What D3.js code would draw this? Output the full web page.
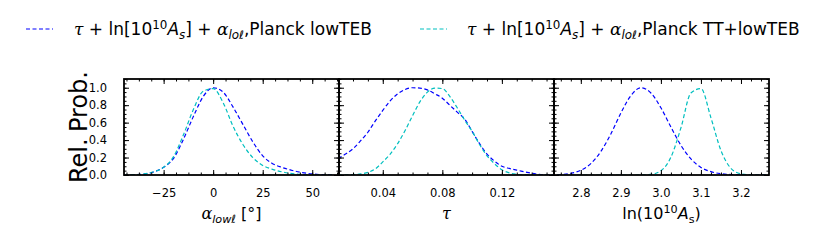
<!DOCTYPE html>
<html><head><meta charset="utf-8">
<script src="https://cdn.jsdelivr.net/npm/d3@7"></script>
<style>
body{margin:0;background:#fff;}
text{font-family:"DejaVu Sans",sans-serif;}
</style></head>
<body><svg id="c" width="830" height="243"></svg>
<script>
// ---- data ----
const alphaX = [-45,-40,-35,-30,-25,-20,-15,-10,-5,0,5,10,15,20,25,30,35,40,45,50,55,60];
const alphaLowTEB   = [0.001,0.003,0.01,0.035,0.088,0.19,0.41,0.67,0.9,1.0,0.95,0.78,0.58,0.38,0.22,0.13,0.085,0.052,0.028,0.012,0.004,0.001];
const alphaTTlowTEB = [0.001,0.004,0.012,0.037,0.088,0.21,0.46,0.75,0.96,0.99,0.83,0.56,0.35,0.2,0.11,0.065,0.035,0.015,0.005,0.001,0,0];

const tauX = [0.010,0.015,0.020,0.025,0.030,0.035,0.040,0.045,0.050,0.055,0.060,0.065,0.070,0.075,0.080,0.085,0.090,0.095,0.100,0.105,0.110,0.115,0.120,0.125,0.130,0.135,0.140,0.145,0.150,0.155];
const tauLowTEB   = [0.19,0.24,0.30,0.39,0.49,0.62,0.74,0.85,0.93,0.98,1.00,0.995,0.975,0.93,0.88,0.80,0.72,0.64,0.50,0.36,0.24,0.16,0.10,0.075,0.055,0.038,0.02,0.008,0.003,0.001];
const tauTTlowTEB = [0.001,0.002,0.005,0.012,0.03,0.07,0.15,0.24,0.36,0.51,0.68,0.84,0.95,0.995,0.99,0.90,0.77,0.63,0.50,0.35,0.22,0.13,0.06,0.025,0.008,0.002,0,0,0,0];

const lnAsX = [2.725,2.75,2.775,2.80,2.825,2.85,2.875,2.90,2.925,2.95,2.975,3.00,3.025,3.05,3.075,3.10,3.125,3.15,3.175,3.20,3.225,3.25,3.275];
const lnAsLowTEB   = [0.001,0.006,0.019,0.054,0.13,0.27,0.47,0.71,0.91,1.0,0.94,0.77,0.55,0.34,0.185,0.087,0.038,0.015,0.005,0.001,0,0,0];
const lnAsTTlowTEB = [0,0,0,0,0,0,0,0,0,0.001,0.007,0.048,0.204,0.54,0.94,0.99,0.655,0.28,0.076,0.013,0.0015,0,0];

const alphaTicks = [-25,0,25,50];
const tauTicks = [0.04,0.08,0.12];
const lnAsTicks = [2.8,2.9,3.0,3.1,3.2];
const yTicks = [0,0.2,0.4,0.6,0.8,1.0];
const seriesNames = ["Planck lowTEB","Planck TT+lowTEB"];
const seriesColors = ["#0000ff","#00bfbf"];

// ---- layout ----
const svg = d3.select("#c");
const pTop = 79, pBottom = 175, pw = 215;
const panels = [
  {x0:124, dom:[-45,63.5], xs:alphaX, ys:[alphaLowTEB,alphaTTlowTEB], major:alphaTicks, minorStep:6.25, fmt:d=>d<0?"\u2212"+Math.abs(d):String(d)},
  {x0:339, dom:[0.0106,0.155], xs:tauX, ys:[tauLowTEB,tauTTlowTEB], major:tauTicks, minorStep:0.01, fmt:d3.format(".2f")},
  {x0:554, dom:[2.733,3.27], xs:lnAsX, ys:[lnAsLowTEB,lnAsTTlowTEB], major:lnAsTicks, minorStep:0.025, fmt:d3.format(".1f")}
];
const y = d3.scaleLinear().domain([0,1.1]).range([pBottom,pTop]);
const yMinor = d3.range(0,1.1001,0.05);

panels.forEach((p,i)=>{
  const x = d3.scaleLinear().domain(p.dom).range([p.x0,p.x0+pw]);
  const first = Math.ceil(p.dom[0]/p.minorStep - 1e-6);
  const minors = [];
  for(let k=first; k*p.minorStep<=p.dom[1]+1e-9; k++) minors.push(+(k*p.minorStep).toFixed(6));
  const g = svg.append("g");
  const cid = "clip"+i;
  svg.append("clipPath").attr("id",cid).append("rect").attr("x",p.x0).attr("y",pTop).attr("width",pw).attr("height",pBottom-pTop);
  const line = d3.line().x((d,j)=>x(p.xs[j])).y(d=>y(d)).curve(d3.curveMonotoneX);
  p.ys.forEach((ys,s)=>{
    g.append("path").datum(ys).attr("d",line).attr("clip-path",`url(#${cid})`)
      .attr("fill","none").attr("stroke",seriesColors[s]).attr("stroke-width",1.2)
      .attr("stroke-dasharray","4,2.5");
  });
  const mk = (axis,tr)=>{ const a=g.append("g").attr("transform",tr).call(axis); a.select(".domain").remove(); a.selectAll("line").attr("stroke","#000").attr("stroke-width",1); return a;};
  mk(d3.axisBottom(x).tickValues(minors).tickSize(-2.5).tickFormat(""),`translate(0,${pBottom})`);
  mk(d3.axisTop(x).tickValues(minors).tickSize(-2.5).tickFormat(""),`translate(0,${pTop})`);
  const xb = mk(d3.axisBottom(x).tickValues(p.major).tickSize(-5).tickPadding(14).tickFormat(p.fmt),`translate(0,${pBottom})`);
  xb.selectAll("text").attr("font-size",11.5).attr("font-family","DejaVu Sans, sans-serif").attr("fill","#000");
  mk(d3.axisTop(x).tickValues(p.major).tickSize(-5).tickFormat(""),`translate(0,${pTop})`);
  mk(d3.axisLeft(y).tickValues(yMinor).tickSize(-2.5).tickFormat(""),`translate(${p.x0},0)`);
  mk(d3.axisRight(y).tickValues(yMinor).tickSize(-2.5).tickFormat(""),`translate(${p.x0+pw},0)`);
  const yl = mk(d3.axisLeft(y).tickValues(yTicks).tickSize(-5).tickPadding(i===0?17:0).tickFormat(i===0?d3.format(".1f"):""),`translate(${p.x0},0)`);
  yl.selectAll("text").attr("font-size",11.5).attr("font-family","DejaVu Sans, sans-serif").attr("fill","#000");
  mk(d3.axisRight(y).tickValues(yTicks).tickSize(-5).tickFormat(""),`translate(${p.x0+pw},0)`);
  g.append("rect").attr("x",p.x0).attr("y",pTop).attr("width",pw).attr("height",pBottom-pTop)
    .attr("fill","none").attr("stroke","#000").attr("stroke-width",1.8);
});

function rich(sel, x, yb, size, segs){
  const t = sel.append("text").attr("x",x).attr("y",yb).attr("font-size",size).attr("fill","#000");
  let shift = 0;
  segs.forEach(([s,st])=>{
    const ts = t.append("tspan").text(s);
    let target = 0, fs = size;
    if(st.includes("sup")){ target = -0.38*size; fs = size*0.7; }
    if(st.includes("sub")){ target = 0.22*size; fs = size*0.7; }
    ts.attr("dy", target-shift); shift = target;
    ts.attr("font-size",fs);
    if(st.includes("i")) ts.attr("font-style","italic");
    if(st.includes("g")) ts.attr("font-family","DejaVu Serif, serif");
  });
  return t;
}

const lblY = 219;
rich(svg, 231.5, lblY, 16, [["α","g i"],["lowℓ","sub i"],[" [°]","n"]]).attr("text-anchor","middle");
rich(svg, 446.5, lblY, 16, [["τ","g i"]]).attr("text-anchor","middle");
rich(svg, 661.5, lblY, 16, [["ln(10","n"],["10","sup"],["A","i"],["s","sub"],[")","n"]]).attr("text-anchor","middle");

const yLab = svg.append("text").attr("transform","translate(87,0) rotate(-90)").attr("font-size",24).attr("fill","#000");
yLab.append("tspan").attr("x",-183).attr("y",0).text("Rel.");
yLab.append("tspan").attr("x",-132).attr("y",0).text("Prob.");

const legX = [26,420], legTx=[74,467];
seriesNames.forEach((n,s)=>{
  svg.append("line").attr("x1",legX[s]).attr("x2",legX[s]+27).attr("y1",29).attr("y2",29)
    .attr("stroke",seriesColors[s]).attr("stroke-width",1.2).attr("stroke-dasharray","4,2.5");
  rich(svg, legTx[s], 35, 17, [["τ","g i"],[" + ln[10","n"],["10","sup"],["A","i"],["s","sub i"],["] + ","n"],["α","g i"],["loℓ","sub i"],[","+n,"n"]]);
});
</script></body></html>
